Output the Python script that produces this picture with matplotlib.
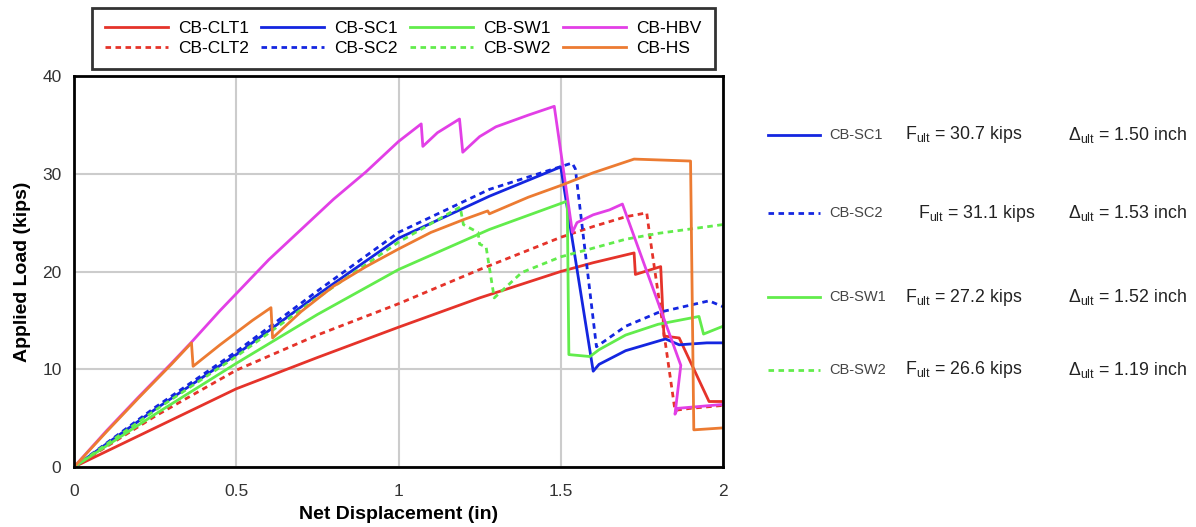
import matplotlib.pyplot as plt
from matplotlib.lines import Line2D

plt.rcParams["font.family"] = ["Liberation Sans", "DejaVu Sans"]
plt.rcParams["mathtext.fontset"] = "custom"
plt.rcParams["mathtext.rm"] = "Liberation Sans"

# series (displacement in, load kips)
clt1_x = [0, 0.25, 0.5, 0.75, 1.0, 1.25, 1.5, 1.6, 1.726, 1.73, 1.808, 1.818, 1.865, 1.957, 2.0]
clt1_y = [0, 4.0, 8.0, 11.2, 14.3, 17.3, 20.0, 20.9, 21.9, 19.7, 20.5, 13.4, 13.2, 6.7, 6.7]

clt2_x = [0, 0.25, 0.5, 0.75, 1.0, 1.25, 1.5, 1.6, 1.7, 1.765, 1.775, 1.818, 1.852, 1.9, 2.0]
clt2_y = [0, 5.2, 9.9, 13.5, 16.7, 20.2, 23.5, 24.6, 25.6, 26.0, 23.5, 13.7, 5.8, 6.0, 6.3]

sc1_x = [0, 0.25, 0.5, 0.75, 1.0, 1.28, 1.5, 1.60, 1.618, 1.7, 1.823, 1.865, 1.95, 2.0]
sc1_y = [0, 5.9, 11.5, 17.6, 23.4, 27.7, 30.7, 9.8, 10.5, 11.9, 13.1, 12.5, 12.7, 12.7]

sc2_x = [0, 0.25, 0.5, 0.75, 1.0, 1.28, 1.535, 1.545, 1.61, 1.7, 1.8, 1.957, 2.0]
sc2_y = [0, 6.1, 11.8, 18.0, 24.0, 28.4, 31.1, 30.5, 12.3, 14.4, 15.8, 17.0, 16.4]

sw1_x = [0, 0.25, 0.5, 0.75, 1.0, 1.28, 1.52, 1.525, 1.59, 1.618, 1.7, 1.8, 1.926, 1.94, 2.0]
sw1_y = [0, 5.4, 10.6, 15.6, 20.2, 24.3, 27.2, 11.5, 11.3, 12.0, 13.5, 14.6, 15.4, 13.6, 14.4]

sw2_x = [0, 0.25, 0.5, 0.75, 1.0, 1.19, 1.2, 1.245, 1.25, 1.27, 1.295, 1.38, 1.5, 1.59, 1.7, 1.8, 2.0]
sw2_y = [0, 5.8, 11.3, 17.3, 23.0, 26.6, 24.8, 24.0, 22.8, 22.5, 17.3, 19.9, 21.5, 22.3, 23.3, 23.9, 24.8]

hbv_x = [0, 0.1, 0.2, 0.3, 0.36, 0.45, 0.6, 0.7, 0.8, 0.9, 1.0, 1.07, 1.075, 1.12, 1.188, 1.198,
         1.25, 1.3, 1.4, 1.48, 1.536, 1.55, 1.6, 1.65, 1.69, 1.87, 1.852, 1.86, 2.0]
hbv_y = [0, 3.7, 7.2, 10.6, 12.7, 16.0, 21.2, 24.3, 27.4, 30.2, 33.3, 35.1, 32.8, 34.2, 35.6, 32.2,
         33.8, 34.8, 36.0, 36.9, 24.0, 25.0, 25.8, 26.3, 26.9, 10.4, 5.4, 6.0, 6.4]

hs_x = [0, 0.1, 0.2, 0.3, 0.362, 0.367, 0.45, 0.55, 0.607, 0.612, 0.7, 0.8, 0.9, 1.0, 1.1, 1.2,
        1.275, 1.28, 1.4, 1.5, 1.6, 1.726, 1.9, 1.91, 2.0]
hs_y = [0, 3.6, 7.1, 10.5, 12.7, 10.3, 12.5, 15.0, 16.3, 13.2, 15.9, 18.5, 20.5, 22.3, 24.0, 25.3,
        26.2, 25.9, 27.6, 28.8, 30.1, 31.5, 31.3, 3.8, 4.0]

red = "#e5332a"
blue = "#1426e0"
green = "#62ec4c"
magenta = "#e23fe6"
orange = "#ec7b32"
dot = (0, (2, 1.6))

series = [
    ("CB-CLT1", clt1_x, clt1_y, red, "-"),
    ("CB-CLT2", clt2_x, clt2_y, red, dot),
    ("CB-SC1", sc1_x, sc1_y, blue, "-"),
    ("CB-SC2", sc2_x, sc2_y, blue, dot),
    ("CB-SW1", sw1_x, sw1_y, green, "-"),
    ("CB-SW2", sw2_x, sw2_y, green, dot),
    ("CB-HBV", hbv_x, hbv_y, magenta, "-"),
    ("CB-HS", hs_x, hs_y, orange, "-"),
]

fig = plt.figure(figsize=(11.96, 5.27), dpi=100)
ax = fig.add_axes([74 / 1196, 1 - 467 / 527, 649 / 1196, 391 / 527])

for name, xs, ys, col, ls in series:
    ax.plot(xs, ys, color=col, linestyle=ls, lw=2, label=name)

ax.set_xlim(0, 2)
ax.set_ylim(0, 40)
ax.set_xticks([0, 0.5, 1, 1.5, 2])
ax.set_xticklabels(["0", "0.5", "1", "1.5", "2"])
ax.set_yticks([0, 10, 20, 30, 40])
ax.grid(True, color="#cccccc", lw=1.5)
ax.set_axisbelow(True)
ax.tick_params(length=0, labelsize=12.5, labelcolor="#333333")
ax.tick_params(axis="x", pad=12)
ax.tick_params(axis="y", pad=9)
for sp in ax.spines.values():
    sp.set_linewidth(2)
ax.set_xlabel("Net Displacement (in)", fontsize=14, fontweight="bold", labelpad=5)
ax.set_ylabel("Applied Load (kips)", fontsize=14, fontweight="bold", labelpad=8)

leg = fig.legend(loc="upper left", bbox_to_anchor=(92 / 1196, 1 - 8 / 527), ncol=4,
                 fontsize=12.5, handlelength=3.6, columnspacing=0.72, handletextpad=0.6,
                 labelspacing=0.25, fancybox=False, edgecolor="black", borderpad=0.75,
                 borderaxespad=0)
leg.get_frame().set_linewidth(2)

# right-hand annotation panel
panel_names = ["CB-SC1", "CB-SC2", "CB-SW1", "CB-SW2"]
panel_colors = [blue, blue, green, green]
panel_styles = ["-", dot, "-", dot]
panel_f = ["30.7", "31.1", "27.2", "26.6"]
panel_d = ["1.50", "1.53", "1.52", "1.19"]
panel_rows = [135, 213, 297, 370]
panel_fx = [905, 918, 905, 905]

for name, col, ls, f, d, row, fx in zip(panel_names, panel_colors, panel_styles,
                                        panel_f, panel_d, panel_rows, panel_fx):
    yy = 1 - row / 527
    fig.add_artist(Line2D([768 / 1196, 820 / 1196], [yy, yy], color=col, linestyle=ls, lw=2))
    fig.text(829 / 1196, yy, name, fontsize=10.5, color="#444444", va="center")
    fig.text(fx / 1196, yy, r"F$_{\mathregular{ult}}$ = " + f + " kips", fontsize=12.8,
             color="#222222", va="center")
    fig.text(1068 / 1196, yy, r"$\Delta_{\mathregular{ult}}$ = " + d + " inch", fontsize=12.8,
             color="#222222", va="center")

fig.savefig("out.png", dpi=100)
